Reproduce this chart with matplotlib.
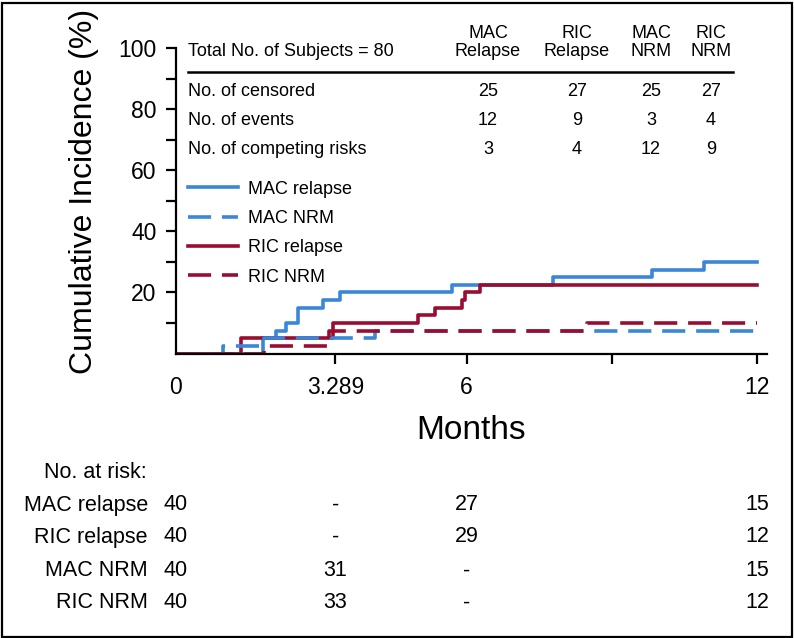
import numpy as np
import matplotlib
matplotlib.use("Agg")
import matplotlib.pyplot as plt
from matplotlib.lines import Line2D
from matplotlib.patches import Rectangle
import matplotlib.transforms as mtransforms

plt.rcParams['font.family'] = ['Liberation Sans', 'DejaVu Sans']

# cumulative incidence step curves (months, %)
mac_rel_t = [0, 1.80, 2.07, 2.28, 2.52, 3.04, 3.39, 5.69, 7.78, 9.83, 10.9, 12]
mac_rel_y = [0, 5, 7.5, 10, 15, 17.5, 20, 22.5, 25, 27.5, 30, 30]
ric_rel_t = [0, 1.34, 3.24, 5.0, 5.35, 5.9, 5.97, 6.27, 12]
ric_rel_y = [0, 5, 10, 12.5, 15, 17.5, 20, 22.5, 22.5]
mac_nrm_t = [0, 0.97, 1.82, 4.1, 12]
mac_nrm_y = [0, 2.5, 5, 7.5, 7.5]
ric_nrm_t = [0, 1.82, 3.16, 8.48, 12]
ric_nrm_y = [0, 2.5, 7.5, 10, 10]

# summary table
table_title = "Total No. of Subjects = 80"
col_top = ["MAC", "RIC", "MAC", "RIC"]
col_bottom = ["Relapse", "Relapse", "NRM", "NRM"]
row_names = ["No. of censored", "No. of events", "No. of competing risks"]
censored = [25, 27, 25, 27]
events = [12, 9, 3, 4]
competing = [3, 4, 12, 9]

# numbers at risk
risk_times = [0, 3.289, 6, 12]
risk_labels = ["MAC relapse", "RIC relapse", "MAC NRM", "RIC NRM"]
risk_mac_rel = ["40", "-", "27", "15"]
risk_ric_rel = ["40", "-", "29", "12"]
risk_mac_nrm = ["40", "31", "-", "15"]
risk_ric_nrm = ["40", "33", "-", "12"]

blue = "#3A87D8"
red = "#990D30"
lw = 2.6
dash = (6.4, 3.0)

fig = plt.figure(figsize=(7.94, 6.38), dpi=100)
ax = fig.add_axes([176 / 794, 1 - 353.5 / 638, 591 / 794, 305.2 / 638])

ax.step(mac_rel_t, mac_rel_y, where='post', color=blue, lw=lw)
ax.step(ric_rel_t, ric_rel_y, where='post', color=red, lw=lw)
ax.step(mac_nrm_t, mac_nrm_y, where='post', color=blue, lw=lw, dashes=dash)
ax.step(ric_nrm_t, ric_nrm_y, where='post', color=red, lw=lw, dashes=dash)

ax.set_xlim(0, 12.2)
ax.set_ylim(0, 100)
for s in ['top', 'right']:
    ax.spines[s].set_visible(False)
for s in ['left', 'bottom']:
    ax.spines[s].set_linewidth(1.6)

ax.set_yticks([20, 40, 60, 80, 100])
ax.set_yticks([10, 30, 50, 70, 90], minor=True)
ax.tick_params(axis='y', which='both', direction='out', length=7, width=1.6,
               labelsize=16.5, pad=7)
ax.set_xticks([0, 3.289, 6, 9, 12])
ax.set_xticklabels(["0", "3.289", "6", "", "12"])
ax.tick_params(axis='x', direction='out', length=7, width=1.6, labelsize=16.5, pad=9)
ax.xaxis.get_major_ticks()[0].tick1line.set_visible(False)

ax.set_ylabel("Cumulative Incidence (%)", fontsize=23)
ax.yaxis.set_label_coords(-0.13, 0.53)
ax.set_xlabel("Months", fontsize=24)
ax.xaxis.set_label_coords(0.5, -0.2)

# summary table inside the plot
fs = 13
ax.text(0.0203, 0.988, table_title, transform=ax.transAxes, fontsize=fs,
        ha='left', va='center')
col_x = [0.528, 0.6785, 0.8037, 0.905]
for cx, top, bot in zip(col_x, col_top, col_bottom):
    ax.text(cx, 1.050, top, transform=ax.transAxes, fontsize=fs, ha='center', va='center')
    ax.text(cx, 0.988, bot, transform=ax.transAxes, fontsize=fs, ha='center', va='center')
ax.plot([0.0203, 0.9425], [0.921, 0.921], transform=ax.transAxes, color='black',
        lw=1.8, clip_on=False)
row_y = [0.860, 0.765, 0.670]
for ry, name, vals in zip(row_y, row_names, [censored, events, competing]):
    ax.text(0.0203, ry, name, transform=ax.transAxes, fontsize=fs, ha='left', va='center')
    for cx, v in zip(col_x, vals):
        ax.text(cx, ry, str(v), transform=ax.transAxes, fontsize=fs,
                ha='center', va='center')

handles = [Line2D([], [], color=blue, lw=lw),
           Line2D([], [], color=blue, lw=lw, dashes=dash),
           Line2D([], [], color=red, lw=lw),
           Line2D([], [], color=red, lw=lw, dashes=dash)]
ax.legend(handles, ["MAC relapse", "MAC NRM", "RIC relapse", "RIC NRM"],
          loc='upper left', bbox_to_anchor=(0.0203, 0.566), frameon=False,
          fontsize=fs, handlelength=2.78, handletextpad=0.55, labelspacing=0.68,
          borderpad=0, borderaxespad=0)

# numbers at risk below the plot
trans = mtransforms.blended_transform_factory(ax.transData, fig.transFigure)
rfs = 15.5
fig.text(147 / 794, 1 - 472 / 638, "No. at risk:", fontsize=rfs, ha='right', va='center')
risk_y = [505, 537, 571, 603]
for py, lab, vals in zip(risk_y, risk_labels,
                         [risk_mac_rel, risk_ric_rel, risk_mac_nrm, risk_ric_nrm]):
    fy = 1 - py / 638
    fig.text(148 / 794, fy, lab, fontsize=rfs, ha='right', va='center')
    for t, v in zip(risk_times, vals):
        ax.text(t, fy, v, transform=trans, fontsize=rfs, ha='center', va='center')

fig.patches.append(Rectangle((1.5 / 794, 1.5 / 638), 790 / 794, 634 / 638,
                             transform=fig.transFigure, fill=False,
                             edgecolor='black', lw=1.6))

fig.savefig("out.png", dpi=100)
